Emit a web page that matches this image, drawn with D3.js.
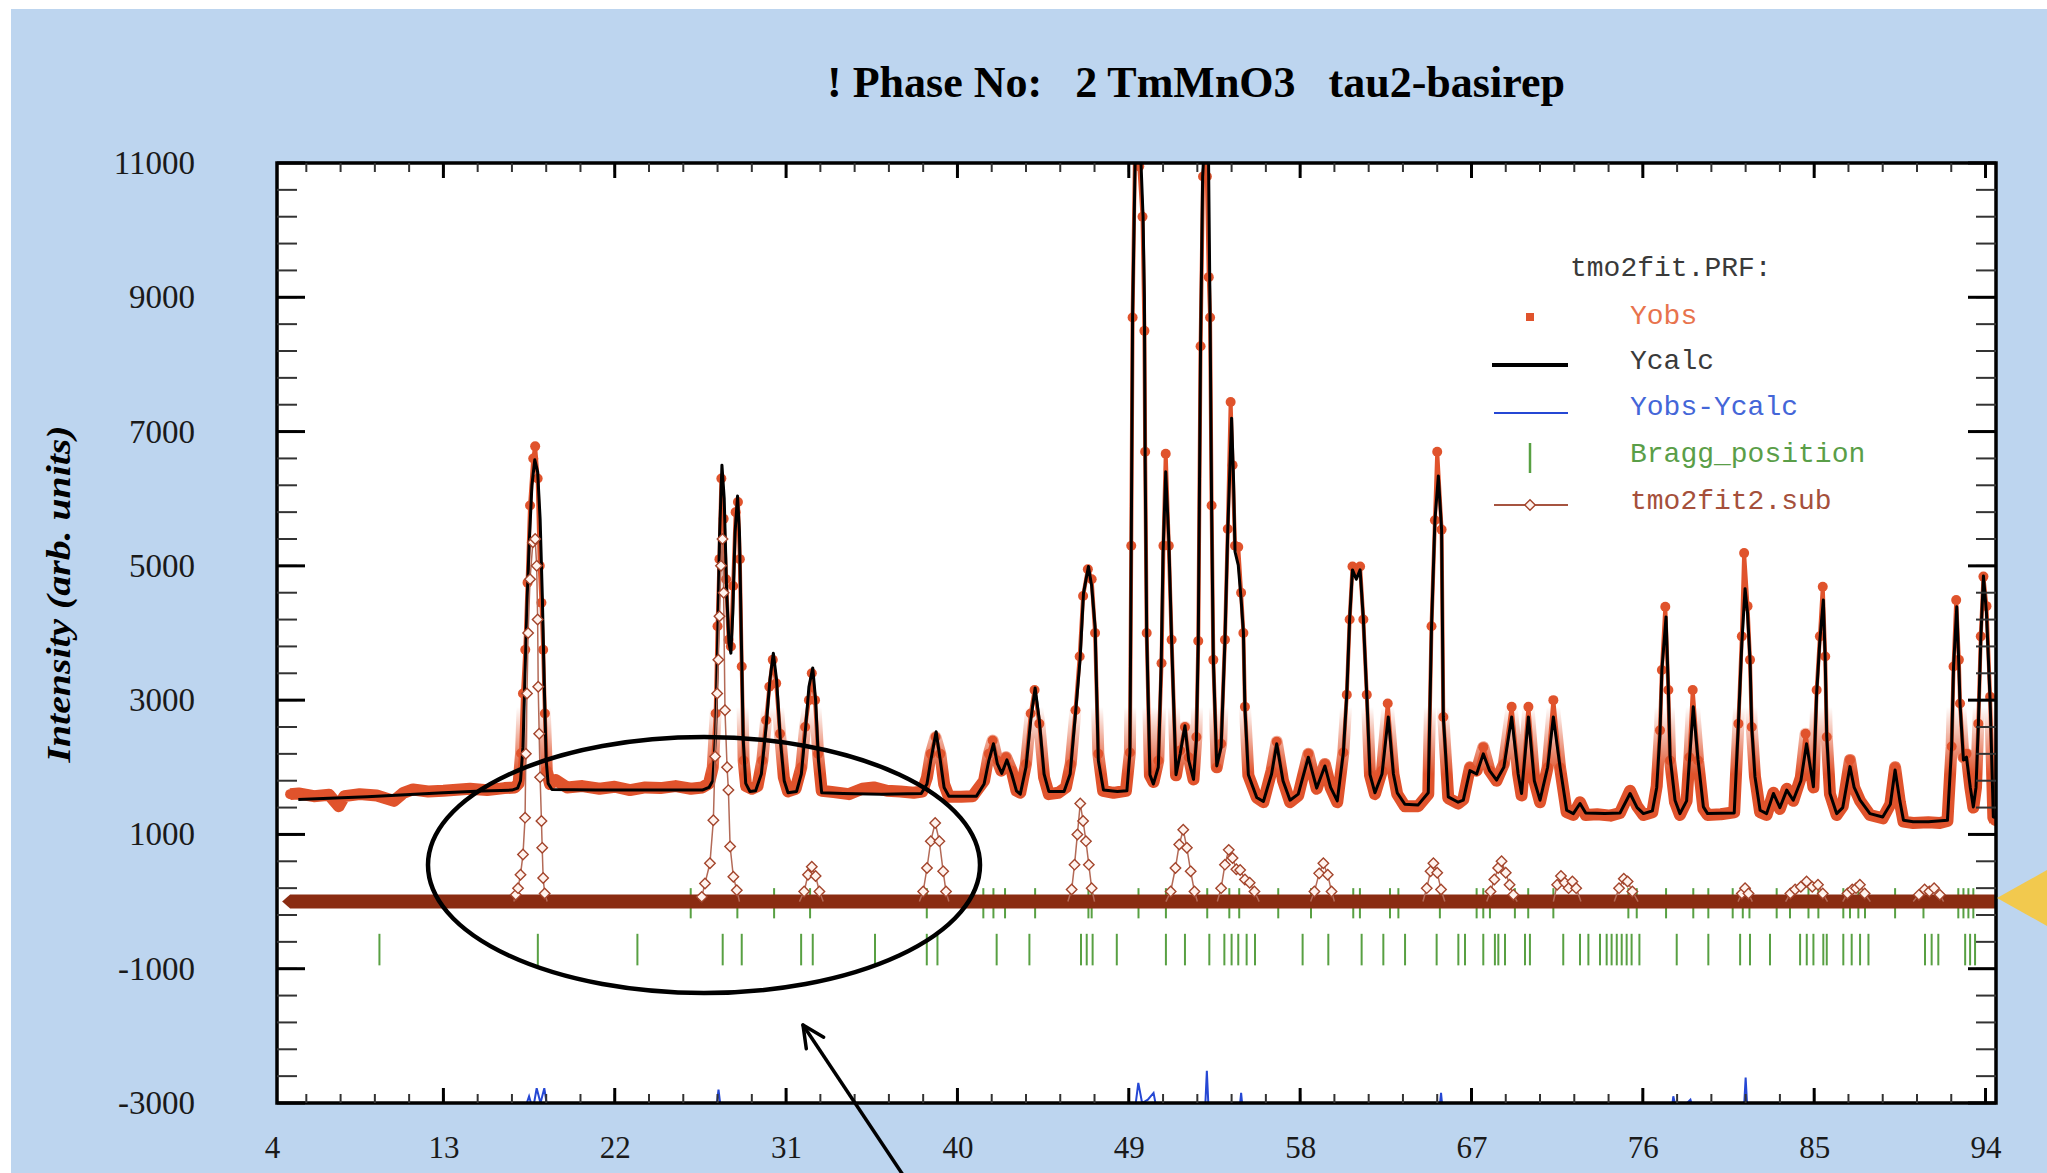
<html>
<head>
<meta charset="utf-8">
<script src="https://d3js.org/d3.v7.min.js"></script>
<style>
  body { margin: 0; background: #fff; }
  .ticklabels text { font-family: "Liberation Serif", serif; fill: #1a1a1a; }
  .ticklabels .domain { stroke: none; }
  .legend text { font-family: "Liberation Mono", monospace; font-size: 28px; }
</style>
</head>
<body>
<svg width="2047" height="1173"></svg>
<script>
// ---- data (2theta, intensity) ----
const xTicks = [4, 13, 22, 31, 40, 49, 58, 67, 76, 85, 94];
const yTicks = [-3000, -1000, 1000, 3000, 5000, 7000, 9000, 11000];

const ycalc = [
  [5.38,1520],[7,1540],[9,1560],[11,1590],[13,1620],[15,1645],[16.6,1660],[16.9,1690],[17.05,1800],[17.18,2300],
  [17.28,3300],[17.4,4500],[17.5,5300],[17.65,6200],[17.8,6580],[17.95,6400],[18.08,5700],[18.2,4500],[18.3,3200],
  [18.4,2100],[18.5,1760],[18.7,1670],[21,1660],[24,1660],[26.6,1660],[26.95,1700],[27.15,1800],[27.3,2500],
  [27.4,3800],[27.5,5400],[27.63,6500],[27.75,6000],[27.88,4600],[28.0,3850],[28.1,3700],[28.2,4300],[28.32,5500],
  [28.45,6040],[28.55,5500],[28.65,3900],[28.75,2400],[28.88,1760],[29.1,1640],[29.4,1650],[29.7,1900],[29.95,2600],
  [30.15,3300],[30.33,3700],[30.5,3300],[30.7,2400],[30.9,1800],[31.1,1620],[31.55,1640],[31.8,1900],[32.0,2500],
  [32.2,3200],[32.4,3480],[32.55,3000],[32.7,2100],[32.87,1620],[34,1610],[36,1600],[38.1,1610],[38.4,1750],
  [38.6,2100],[38.88,2530],[39.1,2100],[39.3,1700],[39.55,1570],[41.0,1570],[41.4,1750],[41.65,2100],[41.89,2350],
  [42.1,2050],[42.33,1910],[42.6,2110],[42.85,1900],[43.1,1650],[43.3,1600],[43.6,2000],[43.85,2700],[44.08,3180],
  [44.3,2700],[44.55,1900],[44.8,1640],[45.6,1640],[45.92,1900],[46.2,2800],[46.44,3600],[46.62,4590],[46.88,4990],
  [47.05,4700],[47.23,4090],[47.4,2100],[47.67,1660],[48.4,1640],[48.9,1650],[49.06,2220],[49.13,5340],[49.2,8730],
  [49.35,11300],[49.6,11300],[49.75,10200],[49.82,9000],[49.86,6540],[49.94,4010],[50.11,1890],[50.29,1750],
  [50.55,2000],[50.7,3500],[50.8,5200],[50.94,6400],[51.1,5400],[51.25,3880],[51.48,1890],[51.7,2200],[51.95,2620],
  [52.15,2100],[52.4,1820],[52.55,2400],[52.65,3880],[52.77,8270],[52.88,10800],[52.97,11300],[53.18,11300],
  [53.27,8730],[53.35,5880],[53.44,3610],[53.62,2020],[53.85,2300],[54.05,3880],[54.2,5540],[54.4,7200],[54.5,6300],
  [54.58,5210],[54.75,5010],[54.9,4500],[55.02,4010],[55.1,2880],[55.28,1890],[55.72,1550],[56.07,1490],[56.5,1900],
  [56.77,2350],[57.1,1800],[57.47,1510],[57.9,1600],[58.43,2150],[58.87,1690],[59.3,2020],[59.6,1700],[59.95,1500],
  [60.27,2220],[60.45,3080],[60.6,4210],[60.75,4940],[60.95,4800],[61.15,4940],[61.32,4210],[61.5,3080],[61.67,1890],
  [61.93,1620],[62.3,1900],[62.63,2750],[62.9,1900],[63.1,1620],[63.5,1450],[64.2,1440],[64.73,1620],[64.9,4080],
  [65.08,5680],[65.26,6340],[65.43,5540],[65.52,2750],[65.78,1560],[66.3,1480],[66.57,1510],[66.92,1950],[67.27,1900],
  [67.62,2200],[67.95,1950],[68.32,1810],[68.7,2000],[69.11,2750],[69.45,1900],[69.63,1610],[69.99,2750],[70.3,1800],
  [70.6,1510],[71.0,2000],[71.3,2750],[71.65,2010],[72.0,1360],[72.35,1310],[72.7,1460],[73.0,1320],[74.0,1310],
  [74.8,1320],[75.33,1610],[75.7,1400],[76.03,1310],[76.5,1350],[76.73,1700],[76.9,2500],[77.0,3450],[77.22,4240],
  [77.34,3150],[77.43,2160],[77.69,1510],[77.95,1310],[78.3,1500],[78.45,2110],[78.65,2900],[78.9,2110],[79.18,1410],
  [79.4,1310],[80.8,1320],[81.02,2650],[81.2,3850],[81.37,4660],[81.5,4300],[81.63,3600],[81.72,2600],[81.89,1860],
  [82.16,1360],[82.5,1310],[82.86,1610],[83.2,1400],[83.56,1660],[83.9,1510],[84.3,1800],[84.6,2350],[84.96,1710],
  [85.13,3100],[85.3,3900],[85.48,4490],[85.58,3600],[85.66,2460],[85.83,1610],[86.18,1310],[86.5,1400],[86.88,2010],
  [87.1,1700],[87.41,1510],[87.93,1310],[88.6,1260],[89.0,1450],[89.25,1960],[89.5,1500],[89.69,1210],[90.2,1190],
  [91.0,1190],[92.0,1210],[92.22,2310],[92.32,3500],[92.49,4390],[92.6,3500],[92.66,2950],[92.84,2110],[93.0,2150],
  [93.2,1700],[93.36,1410],[93.5,1700],[93.62,2600],[93.75,3900],[93.89,4850],[94.05,4300],[94.24,3000],[94.41,1260],
  [94.5,1250]
];

const yobs = [
  [4.95,1600],[5.4,1610],[6.2,1570],[7.0,1590],[7.5,1420],[7.8,1570],[8.6,1600],[9.5,1580],[10.4,1500],[10.9,1620],
  [11.4,1670],[12.2,1640],[13.0,1650],[14.4,1680],[15.3,1660],[16.2,1690],[16.75,1700],[16.95,1760],[17.08,2210],
  [17.18,3100],[17.3,3750],[17.42,4750],[17.55,5900],[17.72,6600],[17.82,6780],[17.95,6300],[18.06,5000],[18.15,4450],
  [18.24,3750],[18.33,2800],[18.43,1950],[18.6,1750],[18.9,1810],[19.5,1700],[20.3,1720],[21.2,1680],[22.0,1710],
  [22.8,1660],[23.6,1700],[24.4,1690],[25.2,1720],[26.0,1680],[26.6,1700],[26.95,1760],[27.15,2000],[27.3,2800],
  [27.4,4100],[27.5,5100],[27.6,6300],[27.72,5700],[27.85,4800],[27.98,3900],[28.1,3800],[28.22,4700],[28.35,5800],
  [28.47,5950],[28.57,5100],[28.67,3500],[28.77,2100],[28.9,1720],[29.2,1680],[29.5,1720],[29.75,2100],[29.95,2700],
  [30.12,3200],[30.3,3600],[30.48,3250],[30.68,2500],[30.88,1850],[31.1,1640],[31.5,1680],[31.8,2000],[32.0,2600],
  [32.2,3000],[32.35,3400],[32.52,3000],[32.68,2200],[32.87,1650],[33.5,1630],[34.3,1600],[35.0,1680],[35.6,1700],
  [36.3,1650],[37.0,1640],[37.7,1620],[38.15,1640],[38.4,1850],[38.6,2200],[38.85,2450],[39.1,2200],[39.3,1750],
  [39.55,1560],[40.2,1560],[40.8,1570],[41.4,1800],[41.65,2200],[41.85,2400],[42.1,2100],[42.3,1950],[42.55,2150],
  [42.85,1950],[43.1,1650],[43.3,1620],[43.6,2050],[43.85,2800],[44.05,3150],[44.3,2650],[44.55,1850],[44.8,1600],
  [45.3,1620],[45.7,1700],[45.95,2050],[46.2,2850],[46.42,3650],[46.6,4550],[46.85,4950],[47.05,4800],[47.23,4000],
  [47.4,2200],[47.65,1650],[48.2,1620],[48.85,1650],[49.06,2220],[49.13,5300],[49.2,8700],[49.32,11050],[49.55,10950],
  [49.72,10200],[49.82,8500],[49.86,6700],[49.94,4000],[50.11,1880],[50.3,1780],[50.55,2100],[50.72,3550],[50.82,5300],
  [50.94,6670],[51.1,5300],[51.25,3900],[51.48,1880],[51.7,2250],[51.95,2600],[52.15,2150],[52.4,1820],[52.55,2450],
  [52.65,3880],[52.77,8270],[52.9,10800],[53.0,11050],[53.1,10800],[53.2,9300],[53.27,8700],[53.35,5900],[53.44,3600],
  [53.62,2000],[53.85,2350],[54.05,3900],[54.2,5550],[54.35,7440],[54.45,6500],[54.58,5300],[54.75,5280],[54.9,4600],
  [55.02,4000],[55.1,2900],[55.28,1880],[55.72,1550],[56.07,1480],[56.5,1950],[56.77,2380],[57.1,1800],[57.47,1480],
  [57.9,1580],[58.43,2200],[58.87,1680],[59.3,2050],[59.6,1700],[59.95,1480],[60.27,2220],[60.45,3080],[60.6,4200],
  [60.75,4990],[60.95,4900],[61.15,4990],[61.32,4200],[61.5,3080],[61.67,1880],[61.93,1600],[62.3,1950],[62.6,2950],
  [62.9,1900],[63.1,1600],[63.5,1420],[64.2,1420],[64.73,1600],[64.9,4100],[65.08,5680],[65.2,6700],[65.43,5540],
  [65.52,2750],[65.78,1540],[66.3,1460],[66.57,1520],[66.92,2000],[67.27,1950],[67.62,2300],[67.95,1950],[68.32,1800],
  [68.7,2050],[69.11,2900],[69.45,1900],[69.63,1580],[69.99,2900],[70.3,1800],[70.6,1480],[71.0,2000],[71.3,3000],
  [71.65,2000],[72.0,1330],[72.35,1290],[72.7,1480],[73.0,1290],[73.6,1300],[74.3,1280],[74.8,1320],[75.33,1650],
  [75.7,1420],[76.03,1290],[76.5,1330],[76.73,1720],[76.9,2550],[77.0,3450],[77.18,4390],[77.34,3150],[77.43,2100],
  [77.69,1480],[77.95,1290],[78.3,1500],[78.45,2150],[78.62,3150],[78.9,2100],[79.18,1380],[79.4,1290],[80.1,1300],
  [80.8,1330],[81.02,2650],[81.2,3950],[81.32,5190],[81.5,4400],[81.63,3600],[81.72,2600],[81.89,1860],[82.16,1330],
  [82.5,1290],[82.86,1620],[83.2,1380],[83.56,1680],[83.9,1500],[84.3,1850],[84.55,2500],[84.96,1700],[85.13,3150],
  [85.3,3950],[85.45,4690],[85.58,3650],[85.66,2450],[85.83,1600],[86.18,1290],[86.5,1420],[86.88,2110],[87.1,1700],
  [87.41,1500],[87.93,1290],[88.6,1240],[89.0,1450],[89.25,2000],[89.5,1480],[89.69,1190],[90.2,1170],[91.0,1180],
  [91.6,1170],[92.0,1200],[92.22,2310],[92.32,3500],[92.46,4490],[92.6,3600],[92.66,2950],[92.84,2150],[93.0,2200],
  [93.2,1700],[93.36,1400],[93.5,1700],[93.62,2650],[93.75,3950],[93.89,4840],[94.05,4400],[94.24,3050],[94.41,1250],
  [94.5,1200]
];

const ydiff = [
  [4.3,-3150],[17.2,-3150],[17.5,-2900],[17.7,-3100],[17.9,-2780],[18.1,-3000],[18.3,-2780],[18.5,-3150],
  [27.3,-3150],[27.45,-2800],[27.6,-3150],[49.3,-3150],[49.5,-2700],[49.7,-3000],[50.0,-2950],[50.3,-2850],
  [50.5,-3150],[53.0,-3150],[53.1,-2520],[53.2,-3150],[54.8,-3150],[54.9,-2850],[55.0,-3150],[65.3,-3150],
  [65.4,-2850],[65.5,-3150],[77.5,-3150],[77.6,-2900],[77.8,-3150],[78.5,-2950],[78.7,-3150],[81.3,-3150],
  [81.4,-2620],[81.5,-3150],[94.5,-3150]
];

const braggUpper = [25.99, 28.44, 30.37, 32.26, 38.39, 41.36, 41.89, 42.5, 44.08, 46.88, 47.05, 49.51, 50.95, 53.12,
  54.28, 54.8, 56.85, 58.57, 60.79, 61.14, 62.72, 63.16, 65.34, 67.27, 67.62, 67.97, 69.28, 69.98, 71.3, 75.24, 75.68,
  77.22, 78.65, 79.44, 80.72, 81.25, 81.6, 83.03, 83.73, 84.7, 85.22, 86.53, 86.88, 87.32, 87.67, 89.25, 90.74, 92.57,
  92.84, 93.1, 93.36];
const braggLower = [9.64, 17.96, 23.19, 27.67, 28.67, 31.79, 32.4, 35.67, 38.39, 38.95, 42.06, 43.78, 46.49, 46.79,
  47.1, 48.37, 50.95, 51.95, 53.23, 54.02, 54.4, 54.75, 55.19, 55.63, 58.13, 59.48, 61.23, 62.37, 63.51, 65.17, 66.31,
  66.66, 67.62, 68.23, 68.41, 68.76, 69.81, 70.07, 71.82, 72.7, 73.14, 73.75, 74.1, 74.36, 74.63, 74.89, 75.15, 75.41,
  75.82, 77.78, 79.44, 81.11, 81.63, 82.68, 84.26, 84.61, 84.96, 85.48, 85.66, 86.53, 86.97, 87.41, 87.85, 90.82,
  91.17, 91.52, 92.93, 93.19, 93.45];

// tmo2fit2.sub : flat at zero over this range, with these peaks
const subRange = [4.95, 94.55];
const subPeaks = [
  [[16.7,0],[16.8,100],[16.92,200],[17.05,400],[17.18,700],[17.29,1250],[17.33,2200],[17.39,3100],[17.45,4000],
   [17.55,4800],[17.7,5350],[17.82,5400],[17.9,5000],[17.95,4200],[17.98,3200],[18.03,2500],[18.08,1850],[18.15,1200],
   [18.19,800],[18.24,350],[18.32,120],[18.45,0]],
  [[26.5,0],[26.57,70],[26.74,270],[27.0,570],[27.18,1210],[27.27,2160],[27.38,3100],[27.44,3600],[27.5,4250],
   [27.58,5000],[27.66,5400],[27.72,4600],[27.79,2850],[27.9,2000],[27.97,1660],[28.06,820],[28.23,370],[28.41,170],[28.55,0]],
  [[31.7,0],[31.95,150],[32.15,400],[32.35,520],[32.55,380],[32.75,150],[32.95,0]],
  [[38.0,0],[38.2,150],[38.4,500],[38.6,900],[38.83,1170],[39.05,900],[39.25,450],[39.4,150],[39.55,0]],
  [[45.8,0],[46.0,180],[46.15,550],[46.3,1000],[46.45,1460],[46.6,1200],[46.75,900],[46.9,550],[47.05,200],[47.2,0]],
  [[50.95,0],[51.2,150],[51.45,500],[51.65,850],[51.86,1070],[52.05,800],[52.25,450],[52.45,150],[52.6,0]],
  [[53.65,0],[53.85,200],[54.05,550],[54.25,770],[54.45,650],[54.65,480],[54.85,470],[55.1,330],[55.35,280],[55.6,150],[55.85,0]],
  [[58.55,0],[58.75,150],[59.0,420],[59.22,570],[59.45,400],[59.65,150],[59.8,0]],
  [[64.45,0],[64.65,200],[64.85,450],[65.0,570],[65.2,430],[65.4,180],[65.6,0]],
  [[67.8,0],[68.0,150],[68.2,330],[68.4,500],[68.58,600],[68.8,430],[69.0,250],[69.2,100],[69.4,0]],
  [[71.3,0],[71.5,250],[71.7,380],[71.9,280],[72.1,200],[72.3,300],[72.5,200],[72.75,0]],
  [[74.5,0],[74.75,200],[75.0,340],[75.2,300],[75.45,150],[75.75,0]],
  [[81.0,0],[81.2,120],[81.37,200],[81.55,120],[81.75,0]],
  [[83.5,0],[83.75,120],[84.0,180],[84.3,220],[84.6,300],[84.9,220],[85.2,250],[85.45,120],[85.7,0]],
  [[86.5,0],[86.75,120],[87.0,180],[87.2,200],[87.4,250],[87.65,120],[87.95,0]],
  [[90.2,0],[90.5,100],[90.8,180],[91.05,150],[91.3,200],[91.6,100],[91.8,0]]
];

const legendItems = ["Yobs", "Ycalc", "Yobs-Ycalc", "Bragg_position", "tmo2fit2.sub"];

// ---- drawing ----
const svg = d3.select("svg");
const frame = { left: 277, right: 1996, top: 163, bottom: 1103 };

const xScale = d3.scaleLinear().domain([4.26, 94.55]).range([frame.left, frame.right]);
const yScale = d3.scaleLinear().domain([-3000, 11000]).range([frame.bottom, frame.top]);

const cObs = "#e0532c", cCalc = "#000", cDiff = "#2547d4", cBragg = "#58a043", cSub = "#8a2c12";

svg.append("rect").attr("x", 11).attr("y", 9).attr("width", 2036).attr("height", 1164).attr("fill", "#bdd5ef");
svg.append("rect")
  .attr("x", frame.left).attr("y", frame.top)
  .attr("width", frame.right - frame.left).attr("height", frame.bottom - frame.top)
  .attr("fill", "#fff");

const defs = svg.append("defs");
defs.append("clipPath").attr("id", "plotclip")
  .append("rect")
  .attr("x", frame.left).attr("y", frame.top)
  .attr("width", frame.right - frame.left).attr("height", frame.bottom - frame.top);
// the dense Yobs scatter only merges into a solid band near background level: fade the band out upward
const grad = defs.append("linearGradient").attr("id", "bandfade")
  .attr("gradientUnits", "userSpaceOnUse")
  .attr("x1", 0).attr("x2", 0).attr("y1", yScale(2900)).attr("y2", yScale(1900));
grad.append("stop").attr("offset", 0).attr("stop-color", "#fff").attr("stop-opacity", 0);
grad.append("stop").attr("offset", 1).attr("stop-color", "#fff").attr("stop-opacity", 1);
defs.append("mask").attr("id", "bandmask").attr("maskUnits", "userSpaceOnUse")
  .attr("x", 0).attr("y", 0).attr("width", 2047).attr("height", 1173)
  .append("rect").attr("x", 0).attr("y", 0).attr("width", 2047).attr("height", 1173)
  .attr("fill", "url(#bandfade)");

let chartArea = svg.append("g").attr("clip-path", "url(#plotclip)");

// bragg ticks
chartArea.selectAll(".bu").data(braggUpper).join("line")
  .attr("x1", d => xScale(d)).attr("x2", d => xScale(d))
  .attr("y1", yScale(200)).attr("y2", yScale(-250))
  .attr("stroke", cBragg).attr("stroke-width", 2);
chartArea.selectAll(".bl").data(braggLower).join("line")
  .attr("x1", d => xScale(d)).attr("x2", d => xScale(d))
  .attr("y1", yScale(-480)).attr("y2", yScale(-950))
  .attr("stroke", cBragg).attr("stroke-width", 2);

const line = d3.line().x(d => xScale(d[0])).y(d => yScale(d[1]));

// difference
chartArea.append("path").datum(ydiff).attr("d", line)
  .attr("fill", "none").attr("stroke", cDiff).attr("stroke-width", 2);

// observed
chartArea.append("g").attr("mask", "url(#bandmask)")
  .append("path").datum(yobs).attr("d", line)
  .attr("fill", "none").attr("stroke", cObs).attr("stroke-width", 12).attr("stroke-linejoin", "round");
chartArea.append("path").datum(yobs).attr("d", line)
  .attr("fill", "none").attr("stroke", cObs).attr("stroke-width", 4).attr("stroke-linejoin", "round");
chartArea.selectAll(".obs").data(yobs).join("circle")
  .attr("cx", d => xScale(d[0])).attr("cy", d => yScale(d[1]))
  .attr("r", 5).attr("fill", cObs);

// calculated
chartArea.append("path").datum(ycalc).attr("d", line)
  .attr("fill", "none").attr("stroke", cCalc).attr("stroke-width", 3).attr("stroke-linejoin", "round");

// subtracted pattern: band at zero, then peaks with open diamonds
const y0 = yScale(0), xs0 = xScale(subRange[0]), xs1 = xScale(subRange[1]);
chartArea.append("path")
  .attr("d", `M${xs0 - 8},${y0} L${xs0},${y0 - 7} L${xs1},${y0 - 7} L${xs1},${y0 + 7} L${xs0},${y0 + 7} Z`)
  .attr("fill", cSub);

const diamond = d3.symbol().type(d3.symbolDiamond2).size(70);
subPeaks.forEach(pk => {
  chartArea.append("path").datum(pk).attr("d", line)
    .attr("fill", "none").attr("stroke", "#b36a57").attr("stroke-width", 1.5);
  chartArea.append("g").selectAll("path").data(pk.filter(d => d[1] > 60)).join("path")
    .attr("d", diamond)
    .attr("transform", d => `translate(${xScale(d[0])},${yScale(d[1])})`)
    .attr("fill", "#fff3ee").attr("stroke", "#a3442b").attr("stroke-width", 1.4);
});

// frame and ticks
svg.append("rect")
  .attr("x", frame.left).attr("y", frame.top)
  .attr("width", frame.right - frame.left).attr("height", frame.bottom - frame.top)
  .attr("fill", "none").attr("stroke", "#000").attr("stroke-width", 3.5);

const inX = v => v >= 4.26 && v <= 94.55;
const xMinor = d3.range(0, 51).map(i => 4 + i * 1.8).filter(inX);
const xMajor = xTicks.filter(inX);
const yMinor = d3.range(0, 36).map(i => -3000 + i * 400);

const tickG = svg.append("g");
function ticksX(vals, len, w, col) {
  vals.forEach(v => {
    tickG.append("line").attr("x1", xScale(v)).attr("x2", xScale(v))
      .attr("y1", frame.bottom).attr("y2", frame.bottom - len).attr("stroke", col).attr("stroke-width", w);
    tickG.append("line").attr("x1", xScale(v)).attr("x2", xScale(v))
      .attr("y1", frame.top).attr("y2", frame.top + len).attr("stroke", col).attr("stroke-width", w);
  });
}
function ticksY(vals, len, w, col) {
  vals.forEach(v => {
    tickG.append("line").attr("x1", frame.left).attr("x2", frame.left + len)
      .attr("y1", yScale(v)).attr("y2", yScale(v)).attr("stroke", col).attr("stroke-width", w);
    tickG.append("line").attr("x1", frame.right).attr("x2", frame.right - len)
      .attr("y1", yScale(v)).attr("y2", yScale(v)).attr("stroke", col).attr("stroke-width", w);
  });
}
ticksX(xMinor, 9, 2, "#333");
ticksX(xMajor, 15, 3, "#000");
ticksY(yMinor, 20, 2, "#333");
ticksY(yTicks, 28, 3, "#000");

// tick labels through d3 axes
svg.append("g").attr("class", "ticklabels")
  .attr("transform", `translate(0,${frame.bottom})`)
  .call(d3.axisBottom(xScale).tickValues(xTicks).tickSize(0).tickPadding(33).tickFormat(d => String(d)))
  .selectAll("text").attr("font-size", 31);
svg.append("g").attr("class", "ticklabels")
  .attr("transform", `translate(${frame.left},0)`)
  .call(d3.axisLeft(yScale).tickValues(yTicks).tickSize(0).tickPadding(82).tickFormat(d => String(d)))
  .selectAll("text").attr("font-size", 33);

// title and axis label
svg.append("text")
  .attr("x", 1196).attr("y", 97).attr("text-anchor", "middle")
  .style("white-space", "pre")
  .attr("font-family", "Liberation Serif").attr("font-weight", "bold").attr("font-size", 44)
  .text("! Phase No:   2 TmMnO3   tau2-basirep");

svg.append("text")
  .attr("transform", "translate(70,594) rotate(-90)")
  .attr("text-anchor", "middle")
  .attr("font-family", "Liberation Serif").attr("font-weight", "bold").attr("font-style", "italic")
  .attr("font-size", 34).attr("textLength", 337).attr("lengthAdjust", "spacingAndGlyphs")
  .text("Intensity (arb. units)");

// legend
const legend = svg.append("g").attr("class", "legend");
legend.append("text").attr("x", 1570).attr("y", 276).attr("fill", "#3a3a3a").text("tmo2fit.PRF:");
const legendColors = ["#e8734d", "#3a3a3a", "#4466d8", "#5a9e48", "#a5503b"];
const rowY = [315, 360, 406, 453, 500];
legendItems.forEach((name, i) => {
  legend.append("text").attr("x", 1630).attr("y", rowY[i] + 9).attr("fill", legendColors[i]).text(name);
});
legend.append("rect").attr("x", 1526).attr("y", 313).attr("width", 8).attr("height", 8).attr("fill", cObs);
legend.append("line").attr("x1", 1492).attr("x2", 1568).attr("y1", 365).attr("y2", 365)
  .attr("stroke", "#000").attr("stroke-width", 4);
legend.append("line").attr("x1", 1494).attr("x2", 1568).attr("y1", 413).attr("y2", 413)
  .attr("stroke", cDiff).attr("stroke-width", 2);
legend.append("line").attr("x1", 1530).attr("x2", 1530).attr("y1", 443).attr("y2", 473)
  .attr("stroke", cBragg).attr("stroke-width", 2.5);
legend.append("line").attr("x1", 1494).attr("x2", 1568).attr("y1", 505).attr("y2", 505)
  .attr("stroke", "#a65440").attr("stroke-width", 2);
legend.append("path").attr("d", diamond).attr("transform", "translate(1530,505)")
  .attr("fill", "#fff3ee").attr("stroke", "#a3442b").attr("stroke-width", 1.4);

// annotations drawn over the chart
svg.append("ellipse").attr("cx", 704).attr("cy", 865).attr("rx", 276).attr("ry", 128)
  .attr("fill", "none").attr("stroke", "#000").attr("stroke-width", 4.5);

const tip = [803, 1025], tail = [905, 1178];
svg.append("line").attr("x1", tail[0]).attr("y1", tail[1]).attr("x2", tip[0]).attr("y2", tip[1])
  .attr("stroke", "#000").attr("stroke-width", 3.5);
const ang = Math.atan2(tail[1] - tip[1], tail[0] - tip[0]);
[-0.45, 0.45].forEach(a => {
  svg.append("line").attr("x1", tip[0]).attr("y1", tip[1])
    .attr("x2", tip[0] + 24 * Math.cos(ang + a)).attr("y2", tip[1] + 24 * Math.sin(ang + a))
    .attr("stroke", "#000").attr("stroke-width", 3.5).attr("stroke-linecap", "round");
});

svg.append("polygon").attr("points", "1997,898 2047,870 2047,926").attr("fill", "#f2c94e");
</script>
</body>
</html>
